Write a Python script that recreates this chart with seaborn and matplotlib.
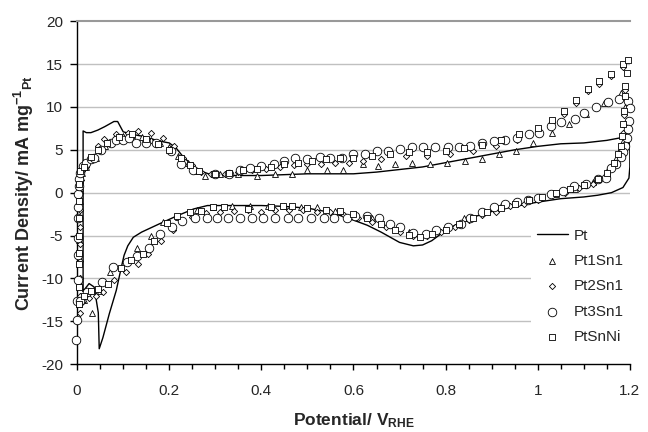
import numpy as np
import pandas as pd
import matplotlib
matplotlib.use('Agg')
import matplotlib.pyplot as plt
import seaborn as sns
from matplotlib.ticker import MultipleLocator, FuncFormatter

sns.set_style('white')
plt.rcParams['font.family'] = ['Liberation Sans', 'DejaVu Sans']
plt.rcParams['axes.unicode_minus'] = False
plt.rcParams['mathtext.fontset'] = 'custom'
plt.rcParams['mathtext.rm'] = 'Liberation Sans:bold'
plt.rcParams['mathtext.it'] = 'Liberation Sans:bold'
plt.rcParams['mathtext.bf'] = 'Liberation Sans:bold'

# Pt (solid line, full cycle)
pt_x = [0.013, 0.013, 0.02, 0.03, 0.045, 0.06, 0.07, 0.08, 0.088, 0.095, 0.10, 0.12, 0.14, 0.16,
        0.18, 0.20, 0.215, 0.23, 0.25, 0.27, 0.29, 0.32, 0.36, 0.40, 0.45, 0.50, 0.55, 0.60, 0.65,
        0.70, 0.75, 0.80, 0.85, 0.90, 0.95, 1.00, 1.05, 1.10, 1.15, 1.18, 1.195, 1.20, 1.20, 1.198,
        1.185, 1.16, 1.13, 1.10, 1.05, 1.00, 0.95, 0.90, 0.85, 0.82, 0.79, 0.77, 0.75, 0.73, 0.70,
        0.68, 0.66, 0.63, 0.59, 0.55, 0.50, 0.45, 0.40, 0.35, 0.30, 0.283, 0.253, 0.217, 0.18, 0.14,
        0.122, 0.11, 0.102, 0.096, 0.085, 0.07, 0.056, 0.048, 0.046, 0.037, 0.026, 0.013]
pt_y = [-11.5, 7.2, 7.0, 7.0, 7.3, 7.7, 8.0, 8.3, 8.3, 7.6, 7.1, 6.8, 6.6, 6.3,
        6.0, 5.8, 5.2, 4.2, 3.2, 2.5, 2.1, 2.0, 2.0, 2.0, 2.1, 2.2, 2.2, 2.2, 2.4,
        2.7, 3.0, 3.5, 4.0, 4.5, 5.0, 5.4, 5.7, 5.8, 6.1, 6.4, 6.4, 5.5, 3.0, 1.7,
        0.6, 0.0, -0.3, -0.5, -0.7, -1.1, -1.6, -2.2, -3.0, -3.8, -4.8, -5.6, -6.1, -6.2, -5.8,
        -5.2, -4.6, -3.8, -3.0, -2.3, -1.8, -1.6, -1.5, -1.5, -1.5, -1.5, -1.9, -2.7, -3.6, -4.6,
        -5.2, -6.2, -7.3, -8.7, -11.4, -14.1, -16.9, -18.2, -14.0, -11.0, -10.6, -11.5]

# Pt1Sn1 (triangles)
pt1sn1_x = [0.005, 0.005, 0.005, 0.005, 0.005, 0.006, 0.006, 0.007, 0.01, 0.02, 0.04, 0.06, 0.08,
            0.10, 0.12, 0.14, 0.16, 0.18, 0.20, 0.22, 0.24, 0.26, 0.278, 0.31, 0.35, 0.39, 0.43,
            0.467, 0.50, 0.543, 0.578, 0.62, 0.654, 0.69, 0.728, 0.767, 0.804, 0.843, 0.88, 0.915,
            0.952, 0.99, 1.03, 1.068, 1.105, 1.144, 1.18,
            1.19, 1.19, 1.185, 1.17, 1.15, 1.12, 1.08, 1.04, 1.00, 0.96, 0.92, 0.88, 0.84, 0.80,
            0.76, 0.72, 0.68, 0.64, 0.60, 0.56, 0.52, 0.485, 0.45, 0.415, 0.375, 0.337, 0.296,
            0.26, 0.22, 0.187, 0.16, 0.13, 0.11, 0.072, 0.05, 0.033, 0.015]
pt1sn1_y = [-13.0, -10.5, -8.0, -5.5, -3.0, -1.0, 0.5, 1.5, 2.3, 3.0, 4.0, 5.5, 6.3,
            6.6, 6.7, 6.5, 6.2, 5.8, 5.3, 4.3, 3.5, 2.5, 2.0, 2.2, 2.2, 2.0, 2.2,
            2.2, 2.6, 2.6, 2.6, 3.4, 3.1, 3.4, 3.5, 3.4, 3.5, 3.7, 3.9, 4.5,
            4.9, 5.8, 7.0, 8.0, 9.2, 10.5, 11.6,
            10.0, 8.0, 6.0, 4.0, 2.5, 1.2, 0.4, -0.2, -0.6, -1.1, -1.6, -2.2, -3.0, -4.0,
            -4.7, -4.6, -3.8, -3.0, -2.6, -2.1, -1.7, -1.7, -1.6, -1.6, -1.6, -1.6, -1.7,
            -2.0, -2.8, -3.4, -5.0, -6.5, -7.8, -9.3, -11.5, -14.0, -12.5]

# Pt2Sn1 (diamonds)
pt2sn1_x = [0.006, 0.006, 0.006, 0.006, 0.006, 0.006, 0.006, 0.007, 0.008, 0.01, 0.02, 0.035, 0.045,
            0.059, 0.085, 0.11, 0.133, 0.16, 0.187, 0.21, 0.23, 0.25, 0.27, 0.29, 0.32, 0.35, 0.38,
            0.41, 0.44, 0.47, 0.50, 0.53, 0.56, 0.59, 0.62, 0.66, 0.713, 0.76, 0.81, 0.86, 0.91,
            0.956, 1.00, 1.03, 1.057, 1.083, 1.11, 1.133, 1.16, 1.185,
            1.19, 1.188, 1.185, 1.18, 1.17, 1.15, 1.12, 1.09, 1.06, 1.03, 1.00, 0.97, 0.94, 0.91,
            0.88, 0.85, 0.82, 0.79, 0.76, 0.73, 0.70, 0.67, 0.64, 0.61, 0.58, 0.55, 0.52, 0.49,
            0.46, 0.43, 0.40, 0.37, 0.34, 0.31, 0.28, 0.25, 0.209, 0.183, 0.154, 0.133, 0.107,
            0.08, 0.057, 0.04, 0.025, 0.01]
pt2sn1_y = [-14.0, -12.0, -10.0, -8.0, -6.0, -4.0, -2.0, 0.0, 1.5, 2.5, 3.0, 4.2, 5.5,
            6.3, 6.9, 7.0, 7.2, 7.0, 6.4, 5.5, 4.0, 3.2, 2.4, 2.2, 2.2, 2.4, 2.6,
            2.8, 3.0, 3.2, 3.3, 3.4, 3.5, 3.5, 3.7, 3.9, 4.3, 4.3, 4.5, 4.9, 5.5,
            6.2, 7.2, 8.2, 9.2, 10.5, 11.9, 12.7, 13.6, 14.6,
            12.0, 9.0, 7.0, 5.0, 3.5, 2.0, 1.0, 0.5, 0.0, -0.3, -0.8, -1.3, -1.6, -2.2,
            -2.6, -3.2, -4.0, -4.6, -5.0, -5.0, -4.6, -4.0, -3.4, -2.9, -2.6, -2.3, -2.2, -2.0,
            -2.0, -2.0, -2.2, -2.0, -2.1, -2.2, -2.4, -2.8, -4.4, -5.6, -7.1, -8.3, -9.3,
            -10.2, -11.6, -12.0, -12.3, -12.8]

# Pt3Sn1 (circles)
pt3sn1_x = [-0.002, 0.0, 0.0, 0.002, 0.002, 0.002, 0.003, 0.003, 0.003, 0.004, 0.005, 0.007, 0.013,
            0.02, 0.03, 0.037, 0.052, 0.074, 0.085, 0.10, 0.113, 0.128, 0.15, 0.172, 0.204, 0.226,
            0.252, 0.30, 0.33, 0.354, 0.376, 0.40, 0.427, 0.45, 0.474, 0.50, 0.528, 0.55, 0.576,
            0.60, 0.626, 0.65, 0.676, 0.70, 0.728, 0.75, 0.778, 0.805, 0.83, 0.854, 0.88, 0.904,
            0.93, 0.956, 0.98, 1.002, 1.028, 1.05, 1.08, 1.10, 1.126, 1.152, 1.176, 1.195,
            1.20, 1.198, 1.196, 1.193, 1.19, 1.186, 1.18, 1.17, 1.158, 1.148,
            1.13, 1.104, 1.078, 1.054, 1.028, 1.00, 0.978, 0.955, 0.93, 0.904, 0.88, 0.854, 0.833,
            0.806, 0.78, 0.757, 0.73, 0.70, 0.68, 0.655, 0.63, 0.604, 0.587, 0.557, 0.535, 0.507,
            0.48, 0.457, 0.43, 0.404, 0.38, 0.354, 0.328, 0.304, 0.283, 0.255, 0.228, 0.207, 0.18,
            0.155, 0.13, 0.108, 0.078, 0.054, 0.022, 0.007]
pt3sn1_y = [-17.2, -14.9, -12.6, -10.2, -7.3, -5.3, -3.0, -1.7, -0.1, 0.8, 1.6, 2.3, 3.1,
            3.5, 3.9, 4.1, 5.0, 5.8, 6.2, 6.2, 6.4, 5.8, 5.8, 5.8, 4.9, 3.4,
            2.6, 2.2, 2.2, 2.6, 2.9, 3.1, 3.4, 3.7, 4.1, 3.9, 4.2, 4.1, 4.1,
            4.5, 4.5, 4.9, 4.9, 5.1, 5.3, 5.3, 5.3, 5.3, 5.3, 5.5, 5.8, 6.0,
            6.2, 6.4, 6.8, 7.0, 7.8, 8.2, 8.6, 9.3, 10.0, 10.6, 10.9, 10.7,
            9.9, 8.4, 7.4, 6.4, 5.5, 4.7, 4.2, 3.4, 2.9, 1.7,
            1.6, 1.0, 0.8, 0.2, -0.1, -0.6, -0.8, -1.1, -1.3, -1.7, -2.3, -3.0, -3.6,
            -4.0, -4.4, -4.8, -4.7, -4.0, -3.6, -3.0, -2.7, -2.7, -2.9, -2.9, -2.9, -2.9,
            -2.9, -2.9, -2.9, -2.9, -2.9, -2.9, -2.9, -2.9, -2.9, -3.0, -3.3, -4.0, -4.8,
            -6.4, -7.4, -8.1, -8.7, -10.4, -11.6, -12.6]

# PtSnNi (squares)
ptsnni_x = [0.004, 0.004, 0.004, 0.004, 0.004, 0.004, 0.004, 0.005, 0.006, 0.015, 0.03, 0.045, 0.065,
            0.09, 0.12, 0.15, 0.175, 0.20, 0.225, 0.245, 0.265, 0.30, 0.33, 0.36, 0.39, 0.42, 0.45,
            0.48, 0.51, 0.54, 0.57, 0.60, 0.64, 0.68, 0.72, 0.76, 0.80, 0.84, 0.88, 0.92, 0.96,
            1.00, 1.03, 1.057, 1.083, 1.11, 1.133, 1.16, 1.185, 1.195,
            1.193, 1.19, 1.19, 1.188, 1.186, 1.183, 1.18, 1.175, 1.165, 1.15, 1.13, 1.10, 1.07,
            1.04, 1.01, 0.98, 0.95, 0.92, 0.89, 0.86, 0.83, 0.80, 0.77, 0.745, 0.72, 0.69, 0.66,
            0.63, 0.60, 0.57, 0.54, 0.50, 0.467, 0.448, 0.42, 0.37, 0.318, 0.296, 0.27, 0.245,
            0.217, 0.195, 0.168, 0.143, 0.117, 0.096, 0.068, 0.046, 0.03, 0.015]
ptsnni_y = [-13.0, -11.0, -8.3, -7.0, -5.0, -3.0, -1.0, 1.0, 2.5, 3.0, 4.2, 5.0, 5.8,
            6.5, 6.8, 6.3, 5.7, 5.0, 4.0, 3.2, 2.5, 2.2, 2.3, 2.6, 2.8, 3.0, 3.3,
            3.5, 3.7, 3.9, 4.0, 4.1, 4.3, 4.5, 4.7, 4.8, 4.9, 5.2, 5.6, 6.2, 6.8,
            7.6, 8.5, 9.5, 10.8, 12.1, 13.0, 13.8, 15.0, 15.5,
            14.0, 12.4, 11.3, 9.5, 8.0, 6.6, 5.5, 4.5, 3.5, 2.3, 1.6, 0.9, 0.4,
            0.0, -0.5, -0.9, -1.3, -1.8, -2.3, -3.0, -3.6, -4.3, -4.8, -5.2, -4.9, -4.3, -3.6,
            -3.0, -2.5, -2.1, -2.0, -1.8, -1.6, -1.5, -1.7, -1.9, -1.7, -1.7, -2.1, -2.3,
            -2.7, -3.5, -5.6, -7.1, -7.9, -8.8, -10.6, -11.2, -11.5, -12.0]

fig, ax = plt.subplots(figsize=(6.48, 4.32), dpi=100)
fig.subplots_adjust(left=0.119, right=0.972, top=0.951, bottom=0.157)

for y in range(-15, 20, 5):
    ax.axhline(y, color='#c0c0c0', lw=1.0, zorder=0)

pt = pd.DataFrame({'x': pt_x, 'y': pt_y})
sns.lineplot(data=pt, x='x', y='y', sort=False, estimator=None, color='black', lw=1.0,
             ax=ax, label='Pt', zorder=3)

series = [
    ('Pt1Sn1', pt1sn1_x, pt1sn1_y, '^', 18),
    ('Pt2Sn1', pt2sn1_x, pt2sn1_y, 'D', 10),
    ('Pt3Sn1', pt3sn1_x, pt3sn1_y, 'o', 38),
    ('PtSnNi', ptsnni_x, ptsnni_y, 's', 13),
]
for name, xs, ys, m, s in series:
    sns.scatterplot(x=xs, y=ys, marker=m, s=s, facecolor='white', edgecolor='black',
                    linewidth=0.6, ax=ax, label=name, zorder=4, clip_on=False)

ax.set_xlim(0, 1.2)
ax.set_ylim(-20, 20)
ax.yaxis.set_major_locator(MultipleLocator(5))
ax.xaxis.set_major_locator(MultipleLocator(0.2))
ax.xaxis.set_minor_locator(MultipleLocator(0.05))
ax.xaxis.set_major_formatter(FuncFormatter(lambda v, p: f'{v:g}'))
ax.tick_params(axis='both', which='both', direction='out', color='black', labelsize=11)
ax.tick_params(axis='y', length=5, width=1, pad=5, left=True)
ax.tick_params(axis='x', which='major', length=4, width=1, pad=10, bottom=True)
ax.tick_params(axis='x', which='minor', length=3.6, width=1, bottom=True)

for side in ['left', 'bottom']:
    ax.spines[side].set_color('black')
    ax.spines[side].set_linewidth(1.0)
ax.spines['top'].set_color('#999999')
ax.spines['top'].set_linewidth(1.5)
ax.spines['right'].set_visible(False)

ax.set_xlabel(r'Potential/ V$_{RHE}$', fontsize=12.5, fontweight='bold', labelpad=10)
ax.set_ylabel(r'Current Density/ mA mg$^{-1}{}_{Pt}$', fontsize=13, fontweight='bold', labelpad=4)

leg = ax.legend(loc='lower right', bbox_to_anchor=(1.0, 0.04), borderaxespad=0,
                frameon=True, fancybox=False, framealpha=1, facecolor='white', edgecolor='none',
                fontsize=11, labelspacing=0.75, handlelength=2.0, handletextpad=0.4,
                borderpad=0.4, markerscale=1.0)

plt.savefig('out.png', dpi=100)
